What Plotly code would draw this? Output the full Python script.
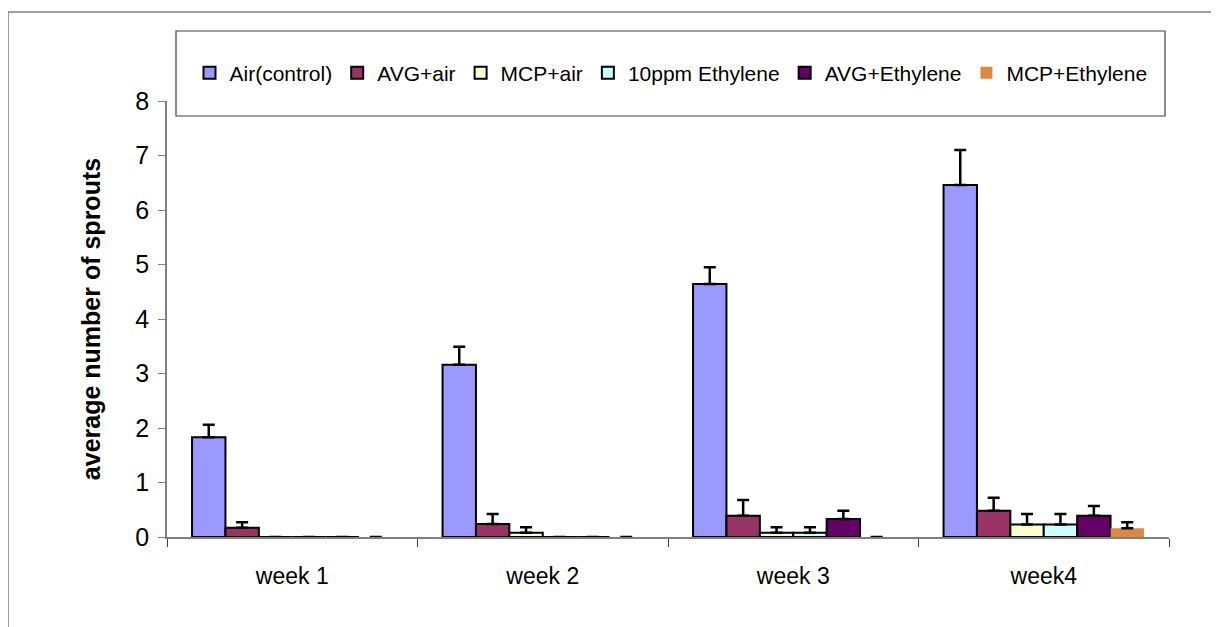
import plotly.graph_objects as go

weeks = ["week 1", "week 2", "week 3", "week4"]
series_names = ["Air(control)", "AVG+air", "MCP+air", "10ppm Ethylene", "AVG+Ethylene", "MCP+Ethylene"]
air_control = [1.83, 3.16, 4.64, 6.46]
air_control_err = [0.23, 0.33, 0.31, 0.64]
avg_air = [0.17, 0.24, 0.39, 0.48]
avg_air_err = [0.1, 0.18, 0.29, 0.24]
mcp_air = [0, 0.08, 0.08, 0.23]
mcp_air_err = [0, 0.1, 0.1, 0.19]
ethylene_10ppm = [0, 0, 0.08, 0.23]
ethylene_10ppm_err = [0, 0, 0.1, 0.19]
avg_ethylene = [0, 0, 0.33, 0.39]
avg_ethylene_err = [0, 0, 0.15, 0.18]
mcp_ethylene = [0, 0, 0, 0.16]
mcp_ethylene_err = [0, 0, 0, 0.11]

values = [air_control, avg_air, mcp_air, ethylene_10ppm, avg_ethylene, mcp_ethylene]
errors = [air_control_err, avg_air_err, mcp_air_err, ethylene_10ppm_err, avg_ethylene_err, mcp_ethylene_err]
colors = ["#9999FF", "#993366", "#FFFFCC", "#CCFFFF", "#660066", "#DD8840"]
line_widths = [2, 2, 2, 2, 2, 0]

fig = go.Figure()
for name, v, e, c, lw in zip(series_names, values, errors, colors, line_widths):
    fig.add_trace(go.Bar(
        x=weeks, y=v, name=name,
        marker=dict(color=c, line=dict(color="black", width=lw)),
        error_y=dict(type="data", array=e, symmetric=False, arrayminus=[0]*len(e),
                     color="black", thickness=2.5, width=6),
    ))

# page is shown with an 8px body offset
OFF = 8
W, H = 1219, 627
PL, PR, PT, PB = 167, 1169, 101, 537   # plot area in screen coords
L, T = PL - OFF, PT - OFF
R = W - (PR - OFF)
B = H - (PB - OFF)
pw, ph = PR - PL, PB - PT

def px(x):
    return (x - PL) / pw

def py(y):
    return (PB - y) / ph

fig.update_layout(
    width=W, height=H,
    margin=dict(l=L, r=R, t=T, b=B),
    paper_bgcolor="white", plot_bgcolor="white",
    barmode="group", bargap=0.2, bargroupgap=0,
    font=dict(family="Liberation Sans, Arial", color="black", size=20),
    showlegend=True,
    legend=dict(orientation="h", x=px(671), y=py(73), xanchor="center", yanchor="middle",
                font=dict(size=21), bgcolor="rgba(0,0,0,0)",
                traceorder="normal"),
    shapes=[
        dict(type="rect", xref="paper", yref="paper", x0=px(8), x1=px(1212), y0=py(660), y1=py(12),
             line=dict(color="#808080", width=1.5), fillcolor="rgba(0,0,0,0)", layer="below"),
        dict(type="rect", xref="paper", yref="paper", x0=px(176), x1=px(1165), y0=py(116), y1=py(31),
             line=dict(color="#404040", width=1.2), fillcolor="rgba(0,0,0,0)", layer="below"),
    ],
)
fig.update_xaxes(
    showline=True, linecolor="#808080", linewidth=1.5,
    ticks="outside", tickson="boundaries", ticklen=8, tickcolor="#404040",
    tickfont=dict(size=23), ticklabelstandoff=18, showgrid=False,
)
fig.update_yaxes(
    range=[0, 8], dtick=1, showline=True, linecolor="#808080", linewidth=1.5,
    ticks="outside", ticklen=7, tickcolor="#808080", showgrid=False, zeroline=False,
    tickfont=dict(size=25), ticklabelstandoff=4,
    title=dict(text="<b>average number of sprouts</b>", font=dict(size=25), standoff=28),
)

fig.write_html("out.html")
